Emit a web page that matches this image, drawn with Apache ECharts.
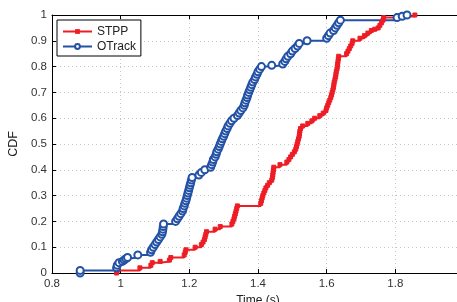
<!DOCTYPE html>
<html>
<head>
<meta charset="utf-8">
<script src="https://cdn.jsdelivr.net/npm/echarts@6/dist/echarts.min.js"></script>
<style>
  html, body { margin: 0; padding: 0; background: #fff; }
  #chart { width: 457px; height: 302px; }
</style>
</head>
<body>
<div id="chart"></div>
<script>
// OTrack: sorted times (s) and the CDF reached at each one
var otrackT = [0.882, 0.882, 0.988, 0.99, 0.995, 1.005, 1.01, 1.015, 1.02, 1.05, 1.087, 1.09, 1.095, 1.10, 1.105, 1.11,
  1.115, 1.12, 1.122, 1.123, 1.124, 1.125, 1.16, 1.165, 1.17, 1.175, 1.18, 1.182, 1.185, 1.187, 1.19, 1.192, 1.194,
  1.196, 1.198, 1.20, 1.202, 1.204, 1.206, 1.208, 1.228, 1.235, 1.245, 1.262, 1.265, 1.268, 1.27, 1.275, 1.278, 1.28,
  1.284, 1.287, 1.29, 1.293, 1.296, 1.30, 1.303, 1.306, 1.31, 1.313, 1.318, 1.323, 1.33, 1.34, 1.345, 1.35, 1.356,
  1.36, 1.362, 1.365, 1.368, 1.37, 1.373, 1.376, 1.379, 1.382, 1.385, 1.39, 1.393, 1.397, 1.40, 1.405, 1.41, 1.44,
  1.472, 1.478, 1.482, 1.487, 1.495, 1.50, 1.508, 1.515, 1.52, 1.543, 1.60, 1.605, 1.61, 1.62, 1.625, 1.63, 1.635,
  1.64, 1.805, 1.82, 1.834];
var otrackCdf = [0, 0.01, 0.02, 0.03, 0.04, 0.045, 0.05, 0.055, 0.06, 0.07, 0.08, 0.09, 0.10, 0.11, 0.12, 0.13,
  0.14, 0.15, 0.16, 0.17, 0.18, 0.19, 0.20, 0.21, 0.22, 0.23, 0.24, 0.25, 0.26, 0.27, 0.28, 0.29, 0.30,
  0.31, 0.32, 0.33, 0.34, 0.35, 0.36, 0.37, 0.38, 0.39, 0.40, 0.41, 0.42, 0.43, 0.44, 0.45, 0.46, 0.47,
  0.48, 0.49, 0.50, 0.51, 0.52, 0.53, 0.54, 0.55, 0.56, 0.57, 0.58, 0.59, 0.60, 0.61, 0.62, 0.63, 0.64,
  0.65, 0.66, 0.67, 0.68, 0.69, 0.70, 0.71, 0.72, 0.73, 0.74, 0.75, 0.76, 0.77, 0.78, 0.79, 0.80, 0.805,
  0.81, 0.82, 0.83, 0.84, 0.85, 0.86, 0.87, 0.88, 0.89, 0.90, 0.91, 0.92, 0.93, 0.94, 0.95, 0.96, 0.97,
  0.98, 0.99, 0.995, 1.0];

// STPP
var stppT = [0.988, 0.99, 1.056, 1.088, 1.092, 1.115, 1.142, 1.146, 1.185, 1.188, 1.19, 1.217, 1.235, 1.24, 1.244,
  1.246, 1.248, 1.25, 1.275, 1.29, 1.324, 1.327, 1.33, 1.332, 1.334, 1.336, 1.338, 1.34, 1.408, 1.41, 1.412, 1.414,
  1.417, 1.42, 1.423, 1.428, 1.433, 1.44, 1.442, 1.443, 1.444, 1.445, 1.446, 1.464, 1.484, 1.49, 1.495, 1.50, 1.506,
  1.51, 1.512, 1.514, 1.516, 1.518, 1.52, 1.521, 1.522, 1.524, 1.53, 1.545, 1.557, 1.565, 1.58, 1.59, 1.598, 1.60,
  1.603, 1.606, 1.609, 1.612, 1.614, 1.616, 1.618, 1.62, 1.621, 1.622, 1.624, 1.626, 1.627, 1.628, 1.63, 1.631,
  1.632, 1.633, 1.634, 1.635, 1.658, 1.662, 1.666, 1.67, 1.674, 1.676, 1.697, 1.71, 1.72, 1.73, 1.74, 1.75, 1.755,
  1.76, 1.764, 1.766, 1.805, 1.857];
var stppCdf = [0, 0.01, 0.02, 0.03, 0.04, 0.045, 0.05, 0.06, 0.07, 0.08, 0.09, 0.10, 0.11, 0.12, 0.13,
  0.14, 0.15, 0.16, 0.17, 0.18, 0.19, 0.20, 0.21, 0.22, 0.23, 0.24, 0.25, 0.26, 0.27, 0.28, 0.29, 0.30,
  0.31, 0.32, 0.33, 0.34, 0.35, 0.36, 0.37, 0.38, 0.39, 0.40, 0.41, 0.42, 0.43, 0.44, 0.45, 0.46, 0.47,
  0.48, 0.49, 0.50, 0.51, 0.52, 0.53, 0.54, 0.55, 0.56, 0.57, 0.58, 0.59, 0.60, 0.61, 0.62, 0.63, 0.64,
  0.65, 0.66, 0.67, 0.68, 0.69, 0.70, 0.71, 0.72, 0.73, 0.74, 0.75, 0.76, 0.77, 0.78, 0.79, 0.80,
  0.81, 0.82, 0.83, 0.84, 0.85, 0.86, 0.87, 0.88, 0.89, 0.90, 0.91, 0.92, 0.93, 0.94, 0.945, 0.95, 0.96,
  0.97, 0.98, 0.99, 0.995, 1.0];

var seriesNames = ['STPP', 'OTrack'];
var xTicks = [0.8, 1, 1.2, 1.4, 1.6, 1.8, 2];
var yTicks = [0, 0.1, 0.2, 0.3, 0.4, 0.5, 0.6, 0.7, 0.8, 0.9, 1];

function pairs(xs, ys) {
  var out = [];
  for (var i = 0; i < xs.length; i++) out.push([xs[i], ys[i]]);
  return out;
}

var font = 'Liberation Sans, Arial, Helvetica, sans-serif';
var red = '#ee1d25';
var blue = '#2351a5';

var myChart = echarts.init(document.getElementById('chart'));
var option = {
  animation: false,
  backgroundColor: '#fff',
  grid: { left: 52, top: 15, right: -7, bottom: 29, containLabel: false, outerBoundsMode: 'none' },
  legend: {
    orient: 'vertical',
    left: 57,
    top: 20,
    data: seriesNames,
    itemWidth: 29,
    itemHeight: 6,
    itemGap: 2,
    padding: [5, 5, 3, 5],
    borderColor: '#000',
    borderWidth: 1,
    backgroundColor: '#fff',
    textStyle: { fontFamily: font, fontSize: 12, color: '#222', lineHeight: 13 }
  },
  xAxis: [
    {
      type: 'value',
      min: xTicks[0],
      max: xTicks[xTicks.length - 1],
      interval: 0.2,
      name: 'Time (s)',
      nameLocation: 'middle',
      nameGap: 17,
      nameTextStyle: { fontFamily: font, fontSize: 12, color: '#222' },
      axisLine: { lineStyle: { color: '#000', width: 1 } },
      axisTick: { inside: true, length: 4, lineStyle: { color: '#000' } },
      axisLabel: { fontFamily: font, fontSize: 11.5, color: '#333', margin: 5 },
      splitLine: { show: true, lineStyle: { type: [1, 3], color: '#c4c4c4', width: 1 } }
    },
    {
      type: 'value',
      position: 'top',
      min: xTicks[0],
      max: xTicks[xTicks.length - 1],
      interval: 0.2,
      axisLine: { lineStyle: { color: '#000', width: 1 } },
      axisTick: { inside: true, length: 4, lineStyle: { color: '#000' } },
      axisLabel: { show: false },
      splitLine: { show: false }
    }
  ],
  yAxis: {
    type: 'value',
    min: yTicks[0],
    max: yTicks[yTicks.length - 1],
    interval: 0.1,
    name: 'CDF',
    nameLocation: 'middle',
    nameGap: 30,
    nameTextStyle: { fontFamily: font, fontSize: 12.5, color: '#222' },
    axisLine: { show: true, lineStyle: { color: '#000', width: 1 } },
    axisTick: { show: true, inside: true, length: 4, lineStyle: { color: '#000' } },
    axisLabel: { fontFamily: font, fontSize: 11.5, color: '#333', margin: 5 },
    splitLine: { show: true, lineStyle: { type: [1, 3], color: '#c4c4c4', width: 1 } }
  },
  series: [
    {
      name: seriesNames[0],
      type: 'line',
      step: 'end',
      data: pairs(stppT, stppCdf),
      symbol: 'rect',
      symbolSize: 4,
      showAllSymbol: true,
      lineStyle: { color: red, width: 2 },
      itemStyle: { color: red, borderColor: red }
    },
    {
      name: seriesNames[1],
      type: 'line',
      step: 'end',
      data: pairs(otrackT, otrackCdf),
      symbol: 'emptyCircle',
      symbolSize: 7,
      showAllSymbol: true,
      lineStyle: { color: blue, width: 2 },
      itemStyle: { color: blue, borderColor: blue, borderWidth: 1.5 }
    }
  ]
};
myChart.setOption(option);
</script>
</body>
</html>
